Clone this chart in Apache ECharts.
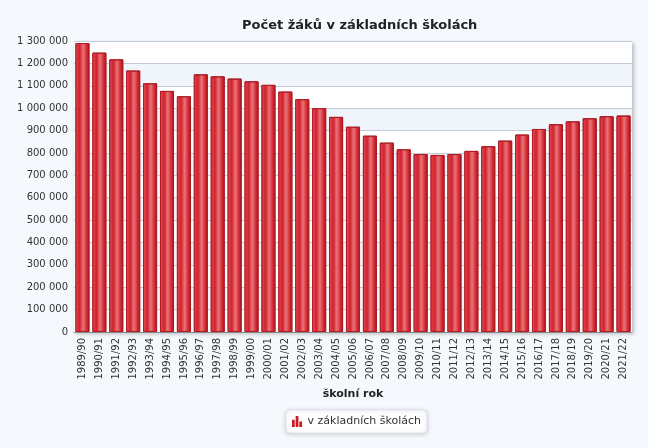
<!DOCTYPE html>
<html>
<head>
<meta charset="utf-8">
<script src="https://cdn.jsdelivr.net/npm/echarts@6/dist/echarts.min.js"></script>
<style>
  html, body { margin: 0; padding: 0; background: #f5f9fd; }
  #chart { width: 648px; height: 448px; }
</style>
</head>
<body>
<div id="chart"></div>
<script>
var roky = ['1989/90', '1990/91', '1991/92', '1992/93', '1993/94', '1994/95', '1995/96', '1996/97',
  '1997/98', '1998/99', '1999/00', '2000/01', '2001/02', '2002/03', '2003/04', '2004/05', '2005/06',
  '2006/07', '2007/08', '2008/09', '2009/10', '2010/11', '2011/12', '2012/13', '2013/14', '2014/15',
  '2015/16', '2016/17', '2017/18', '2018/19', '2019/20', '2020/21', '2021/22'];

var zaci = [1291000, 1248000, 1218000, 1168000, 1111000, 1077000, 1053000, 1151000,
  1142000, 1132000, 1120000, 1104000, 1074000, 1040000, 1000000, 961000, 917000,
  877000, 846000, 816000, 795000, 791000, 795000, 809000, 830000, 855000,
  882000, 907000, 928000, 941000, 955000, 964000, 967000];

var osaY = { min: 0, max: 1300000, interval: 100000 };

function drawGraf () {

  var chartDom = document.getElementById('chart');
  var myChart = echarts.init(chartDom);
  var option;

  option = {
    backgroundColor: '#f5f9fd',
    textStyle: { fontFamily: 'DejaVu Sans' },
    title: {
      text: 'Počet žáků v základních školách',
      left: 237,
      top: 14,
      textStyle: { fontSize: 13, fontWeight: 'bold', color: '#222' }
    },
    grid: {
      left: 74, right: 16, top: 41, bottom: 116,
      show: true,
      backgroundColor: '#ffffff',
      borderWidth: 0,
      shadowColor: 'rgba(0,0,0,0.25)',
      shadowBlur: 4,
      shadowOffsetX: 2,
      shadowOffsetY: 2
    },
    legend: {
      data: ['v základních školách'],
      bottom: 15,
      left: 286,
      backgroundColor: '#ffffff',
      borderColor: '#e0e4ea',
      borderWidth: 1,
      borderRadius: 4,
      padding: [6, 6, 6, 6],
      shadowColor: 'rgba(0,0,0,0.18)',
      shadowBlur: 4,
      shadowOffsetY: 1,
      itemWidth: 11,
      itemHeight: 11,
      itemGap: 4,
      icon: 'path://M0,4L3,4L3,12L0,12Z M4,0L7,0L7,12L4,12Z M8,6L11,6L11,12L8,12Z',
      itemStyle: { color: '#cc1a22', borderWidth: 0 },
      textStyle: { fontSize: 11, color: '#333' }
    },
    xAxis: {
      type: 'category',
      data: roky,
      name: 'školní rok',
      nameLocation: 'middle',
      nameGap: 57,
      nameTextStyle: { fontSize: 11, fontWeight: 'bold', color: '#222' },
      axisLine: { lineStyle: { color: '#8a8a8a' } },
      axisTick: { show: false },
      axisLabel: { rotate: 90, interval: 0, fontSize: 10, color: '#333', margin: 6 }
    },
    yAxis: {
      type: 'value',
      min: osaY.min,
      max: osaY.max,
      interval: osaY.interval,
      axisLine: { show: false },
      axisTick: { show: false },
      axisLabel: {
        fontSize: 10,
        color: '#333',
        margin: 6,
        formatter: function (v) { return String(v).replace(/\B(?=(\d{3})+(?!\d))/g, ' '); }
      },
      splitLine: { lineStyle: { color: '#c3ccd8' } },
      splitArea: { show: true, areaStyle: { color: ['#ffffff', '#f0f5fb'] } }
    },
    series: [
      {
        name: 'v základních školách',
        type: 'bar',
        data: zaci,
        barCategoryGap: '17%',
        itemStyle: {
          borderColor: '#ad1c24',
          borderWidth: 1,
          color: {
            type: 'linear', x: 0, y: 0, x2: 1, y2: 0,
            colorStops: [
              { offset: 0, color: '#f6b8bc' },
              { offset: 0.12, color: '#de3a44' },
              { offset: 0.3, color: '#d2222c' },
              { offset: 0.55, color: '#e8747a' },
              { offset: 0.8, color: '#d62c34' },
              { offset: 1, color: '#a41218' }
            ]
          }
        }
      }
    ]
  };

  option && myChart.setOption(option);

}

drawGraf()
</script>
</body>
</html>
